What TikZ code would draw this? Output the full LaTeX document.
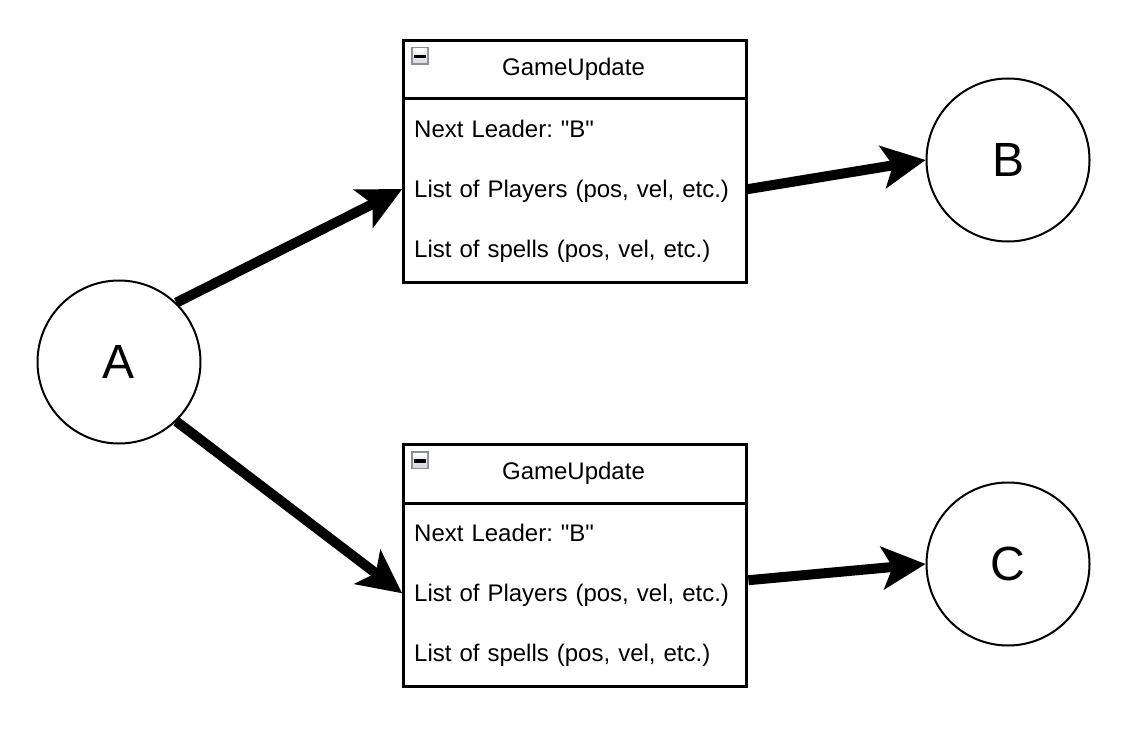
\documentclass[tikz,border=0pt]{standalone}
\usepackage{fontspec}
\setmainfont{Liberation Sans}[Ligatures=TeXOff]
\usetikzlibrary{arrows.meta}
\definecolor{icongray}{HTML}{8C909C}
\definecolor{iconlight}{HTML}{D8D8DC}
\frenchspacing
\begin{document}
\begin{tikzpicture}[x=1pt,y=-1pt,
  circ/.style={circle,draw=black,line width=2pt,minimum size=163pt,inner sep=0pt,fill=white,
    font=\fontsize{48}{56}\selectfont},
  boxframe/.style={draw=black,line width=3pt,fill=white,minimum width=343pt,minimum height=242pt,
    inner sep=0pt,anchor=north west},
  rowtext/.style={minimum width=343pt,minimum height=60pt,inner xsep=12pt,inner ysep=0pt,
    text width=319pt,align=left,text height=17.2pt,text depth=0pt,anchor=north west,
    font=\fontsize{24}{28}\selectfont},
  headtext/.style={inner sep=0pt,text height=17.2pt,text depth=0pt,font=\fontsize{24}{28}\selectfont},
  divider/.style={line width=3pt},
  arr/.style={line width=10pt,-{Stealth[length=44pt,width=44pt,inset=11pt,line width=0pt]}},
  iconframe/.style={fill=icongray,draw=none},
  iconface/.style={top color=white,bottom color=iconlight,draw=none},
  iconbar/.style={fill=black,draw=none}
]
\useasboundingbox[fill=white] (0,0) rectangle (1130,733);

% circles
\node[circ] (A) at (119,362) {A};
\node[circ] (B) at (1008,160) {B};
\node[circ] (C) at (1008,564) {C};

% top class box
\node[boxframe] (g1) at (402,39) {};
\draw[divider] (402,99) -- (745,99);
\node[headtext] (g1t) at (573.5,67) {GameUpdate};
\node[rowtext] (g1a) at (402,99) {Next Leader: "B"};
\node[rowtext] (g1b) at (402,159) {List of Players (pos, vel, etc.)};
\node[rowtext] (g1c) at (402,219) {List of spells (pos, vel, etc.)};
\fill[iconframe] (411,47) rectangle (429,65);
\shade[iconface] (413,49) rectangle (427,63);
\fill[iconbar] (414,55) rectangle (426,58.5);

% bottom class box
\node[boxframe] (g2) at (402,443) {};
\draw[divider] (402,503) -- (745,503);
\node[headtext] (g2t) at (573.5,471) {GameUpdate};
\node[rowtext] (g2a) at (402,503) {Next Leader: "B"};
\node[rowtext] (g2b) at (402,563) {List of Players (pos, vel, etc.)};
\node[rowtext] (g2c) at (402,623) {List of spells (pos, vel, etc.)};
\fill[iconframe] (411,451) rectangle (429,469);
\shade[iconface] (413,453) rectangle (427,467);
\fill[iconbar] (414,459) rectangle (426,462.5);

% connectors
\draw[arr] (A.46) -- (g1b.west);
\draw[arr] ([xshift=2pt]g1b.east) -- (B.west);
\draw[arr] (A.-46) -- (g2b.west);
\draw[arr] ([xshift=3pt,yshift=13pt]g2b.east) -- (C.west);
\end{tikzpicture}
\end{document}
